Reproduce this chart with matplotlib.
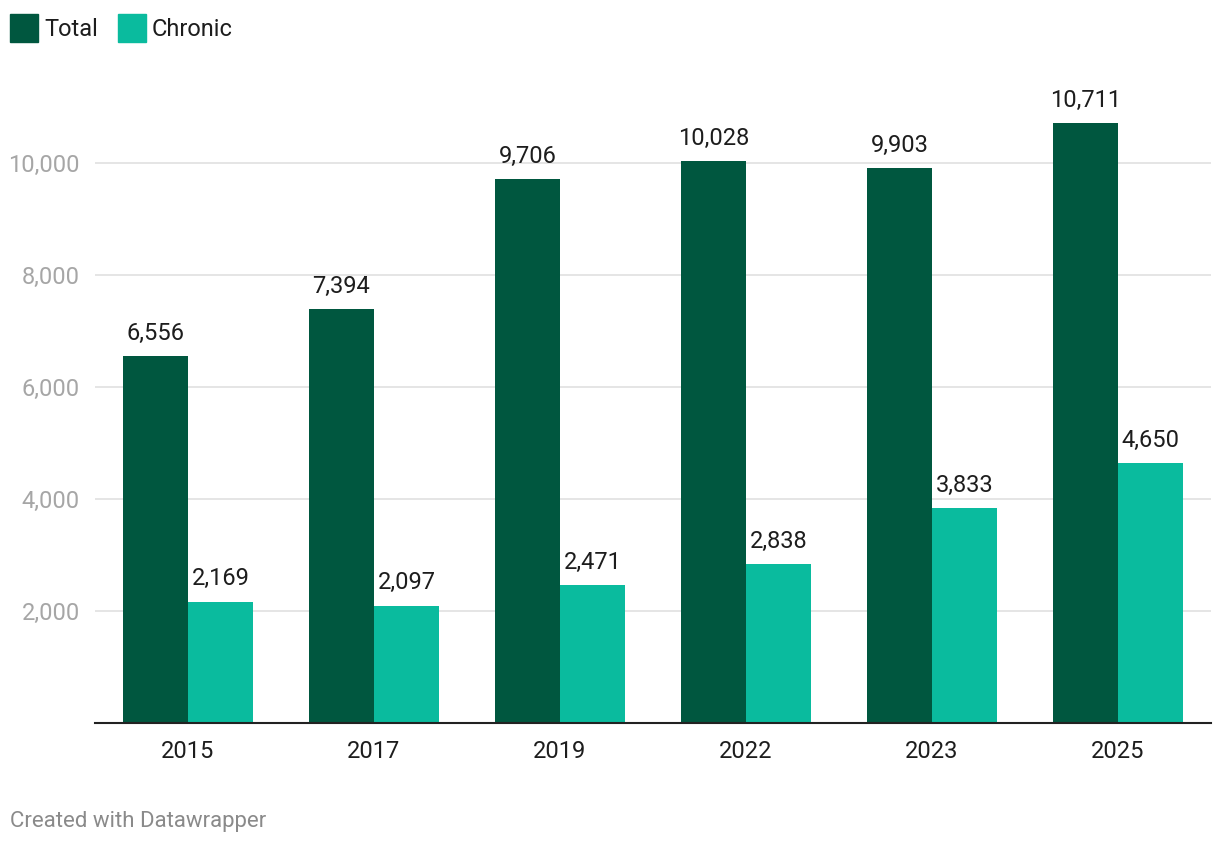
import numpy as np
import matplotlib
matplotlib.use('Agg')
import matplotlib.pyplot as plt
from matplotlib.patches import Rectangle

plt.rcParams['font.family'] = ['Roboto', 'DejaVu Sans']

# data
years = ['2015', '2017', '2019', '2022', '2023', '2025']
total = [6556, 7394, 9706, 10028, 9903, 10711]
chronic = [2169, 2097, 2471, 2838, 3833, 4650]

dark = '#00573f'
teal = '#0abb9e'

fig = plt.figure(figsize=(12.2, 8.44), dpi=100)
ax = fig.add_axes([95 / 1220, 1 - 723 / 844, 1116 / 1220, 616 / 844])

x = np.arange(len(years))
w = 0.35
b1 = ax.bar(x - w / 2, total, w, color=dark, zorder=3)
b2 = ax.bar(x + w / 2, chronic, w, color=teal, zorder=3)

for bars, vals in [(b1, total), (b2, chronic)]:
    for r, v in zip(bars, vals):
        ax.annotate(f'{v:,}', (r.get_x() + r.get_width() / 2, v),
                    xytext=(0, 8), textcoords='offset points',
                    ha='center', va='bottom', fontsize=17, color='#1d1d1d',
                    clip_on=False)

ax.set_xlim(-0.5, 5.5)
ax.set_ylim(0, 11000)
ax.set_yticks([2000, 4000, 6000, 8000, 10000])
ax.set_yticklabels([f'{t:,}' for t in [2000, 4000, 6000, 8000, 10000]])
ax.yaxis.grid(True, color='#e3e3e3', linewidth=1.3, zorder=0)
ax.set_xticks(x)
ax.set_xticklabels(years)
ax.tick_params(axis='x', length=0, pad=12, labelsize=17, labelcolor='#1d1d1d')
ax.tick_params(axis='y', length=0, pad=11, labelsize=17, labelcolor='#a6a6a6')
for s in ['top', 'right', 'left']:
    ax.spines[s].set_visible(False)
ax.spines['bottom'].set_color('#222222')
ax.spines['bottom'].set_linewidth(1.5)
ax.spines['bottom'].set_zorder(4)

# legend
fig.patches.append(Rectangle((10 / 1220, 1 - 42 / 844), 28 / 1220, 28 / 844,
                             transform=fig.transFigure, color=dark))
fig.text(44 / 1220, 1 - 29 / 844, 'Total', fontsize=17, color='#1d1d1d', va='center')
fig.patches.append(Rectangle((118 / 1220, 1 - 42 / 844), 28 / 1220, 28 / 844,
                             transform=fig.transFigure, color=teal))
fig.text(152 / 1220, 1 - 29 / 844, 'Chronic', fontsize=17, color='#1d1d1d', va='center')

fig.text(10 / 1220, 1 - 821 / 844, 'Created with Datawrapper', fontsize=16,
         color='#8a8a8a', va='center')

fig.savefig('out.png', dpi=100)
